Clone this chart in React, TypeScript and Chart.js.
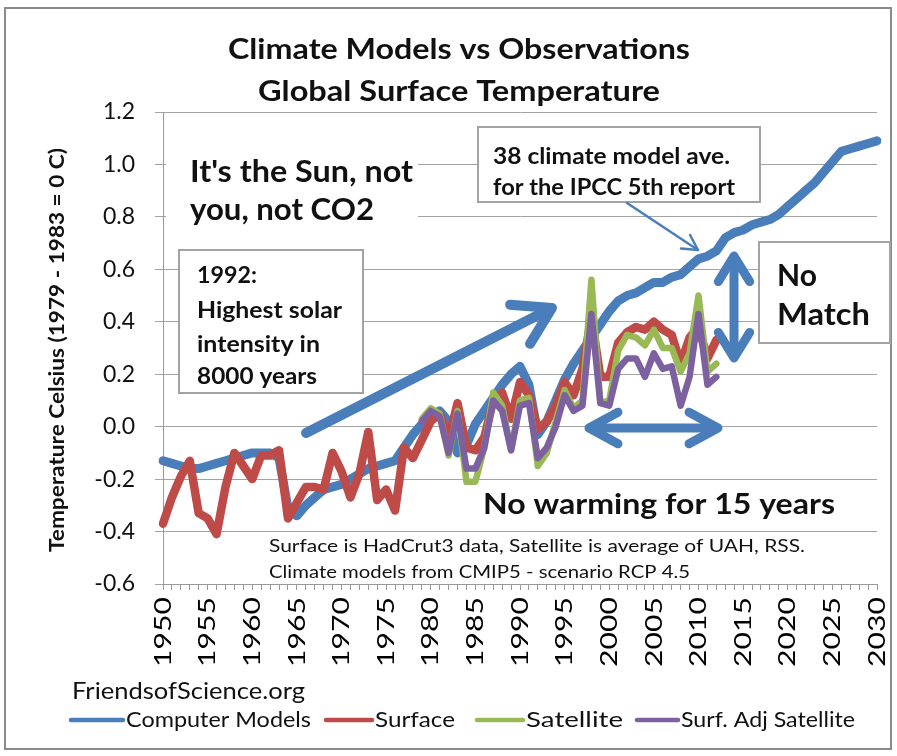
import React, { useEffect, useRef } from "react";
import { Chart, registerables } from "chart.js";
Chart.register(...registerables);

const FONT = "Lato, 'Open Sans', sans-serif";

const years = [
  "1950","1951","1952","1953","1954","1955","1956","1957","1958","1959",
  "1960","1961","1962","1963","1964","1965","1966","1967","1968","1969",
  "1970","1971","1972","1973","1974","1975","1976","1977","1978","1979",
  "1980","1981","1982","1983","1984","1985","1986","1987","1988","1989",
  "1990","1991","1992","1993","1994","1995","1996","1997","1998","1999",
  "2000","2001","2002","2003","2004","2005","2006","2007","2008","2009",
  "2010","2011","2012","2013","2014","2015","2016","2017","2018","2019",
  "2020","2021","2022","2023","2024","2025","2026","2027","2028","2029",
  "2030",
];

// Computer Models 1950-2030
const computerModels = [
  -0.13, -0.14, -0.15, -0.16, -0.16, -0.15, -0.14, -0.13, -0.12, -0.11,
  -0.10, -0.10, -0.10, -0.12, -0.31, -0.34, -0.30, -0.27, -0.24, -0.23,
  -0.22, -0.20, -0.18, -0.16, -0.15, -0.14, -0.13, -0.08, -0.03, 0.01,
  0.04, 0.06, 0.02, -0.10, -0.07, 0.01, 0.06, 0.11, 0.16, 0.20,
  0.23, 0.16, -0.03, 0.02, 0.10, 0.18, 0.24, 0.29, 0.34, 0.39,
  0.44, 0.48, 0.50, 0.51, 0.53, 0.55, 0.55, 0.57, 0.58, 0.61,
  0.64, 0.65, 0.67, 0.72, 0.74, 0.75, 0.77, 0.78, 0.79, 0.81,
  0.84, 0.87, 0.90, 0.93, 0.97, 1.01, 1.05, 1.06, 1.07, 1.08,
  1.09,
];

// Surface (HadCrut3) 1950-2012
const surface = [
  -0.37, -0.27, -0.19, -0.13, -0.33, -0.35, -0.41, -0.23, -0.10, -0.15,
  -0.20, -0.11, -0.11, -0.09, -0.35, -0.29, -0.23, -0.23, -0.24, -0.10,
  -0.17, -0.27, -0.18, -0.02, -0.28, -0.24, -0.32, -0.08, -0.12, -0.05,
  0.02, 0.05, -0.05, 0.09, -0.08, -0.09, -0.04, 0.10, 0.13, 0.03,
  0.17, 0.12, -0.01, 0.02, 0.08, 0.17, 0.12, 0.22, 0.42, 0.19,
  0.19, 0.32, 0.36, 0.38, 0.37, 0.40, 0.37, 0.35, 0.24, 0.34,
  0.38, 0.26, 0.33,
];

// Satellite (average of UAH, RSS) 1979-2012
const satellite = [
  0.03, 0.07, 0.05, -0.11, 0.06, -0.21, -0.21, -0.08, 0.13, 0.08,
  -0.09, 0.10, 0.11, -0.15, -0.10, 0.02, 0.14, 0.07, 0.10, 0.56,
  0.09, 0.10, 0.29, 0.35, 0.34, 0.31, 0.37, 0.30, 0.30, 0.21,
  0.28, 0.50, 0.21, 0.24,
];

// Surface adjusted satellite 1979-2012
const surfAdjSatellite = [
  0.02, 0.06, 0.04, -0.10, 0.05, -0.16, -0.16, -0.08, 0.10, 0.06,
  -0.09, 0.08, 0.09, -0.12, -0.08, 0.00, 0.12, 0.06, 0.08, 0.43,
  0.09, 0.08, 0.22, 0.26, 0.26, 0.19, 0.28, 0.22, 0.23, 0.08,
  0.19, 0.43, 0.16, 0.19,
];

const seriesNames = ["Computer Models", "Surface", "Satellite", "Surf. Adj Satellite"];
const seriesColors = ["#4A7EBB", "#BE4B48", "#98B954", "#7D60A0"];

function pad(arr: number[], startYear: number): (number | null)[] {
  return years.map((y) => {
    const i = Number(y) - startYear;
    return i >= 0 && i < arr.length ? arr[i] : null;
  });
}

function drawText(
  ctx: CanvasRenderingContext2D,
  s: string,
  x: number,
  y: number,
  size: number,
  bold: boolean,
  o: { w?: number; align?: CanvasTextAlign; rot?: boolean; color?: string } = {}
) {
  ctx.save();
  ctx.font = `${bold ? "bold " : ""}${size}px ${FONT}`;
  ctx.fillStyle = o.color || "#111";
  ctx.textBaseline = "middle";
  ctx.textAlign = o.align || "left";
  const natural = ctx.measureText(s).width;
  const sx = o.w ? o.w / natural : 1;
  ctx.translate(x, y);
  if (o.rot) ctx.rotate(-Math.PI / 2);
  ctx.scale(sx, 1);
  ctx.fillText(s, 0, 0);
  ctx.restore();
}

function stroke(ctx: CanvasRenderingContext2D, pts: number[][], w: number, color: string) {
  ctx.save();
  ctx.strokeStyle = color;
  ctx.lineWidth = w;
  ctx.lineCap = "round";
  ctx.lineJoin = "round";
  ctx.beginPath();
  pts.forEach((p, i) => (i ? ctx.lineTo(p[0], p[1]) : ctx.moveTo(p[0], p[1])));
  ctx.stroke();
  ctx.restore();
}

function arrowHead(ctx: CanvasRenderingContext2D, tip: number[], from: number[], len: number, spread: number, w: number, color: string) {
  const a = Math.atan2(tip[1] - from[1], tip[0] - from[0]);
  const p1 = [tip[0] - len * Math.cos(a - spread), tip[1] - len * Math.sin(a - spread)];
  const p2 = [tip[0] - len * Math.cos(a + spread), tip[1] - len * Math.sin(a + spread)];
  stroke(ctx, [p1, tip, p2], w, color);
}

function box(ctx: CanvasRenderingContext2D, x: number, y: number, w: number, h: number, border: boolean) {
  ctx.save();
  ctx.fillStyle = "#fff";
  ctx.fillRect(x, y, w, h);
  if (border) {
    ctx.strokeStyle = "#a3a3a3";
    ctx.lineWidth = 2;
    ctx.strokeRect(x, y, w, h);
  }
  ctx.restore();
}

const overlay = {
  id: "overlay",
  afterDraw(chart: any) {
    const ctx: CanvasRenderingContext2D = chart.ctx;
    const xs = chart.scales.x;
    const blue = seriesColors[0];

    // outer frame
    ctx.save();
    ctx.strokeStyle = "#8a8a8a";
    ctx.lineWidth = 2;
    ctx.strokeRect(5, 8, 886, 741);
    ctx.restore();

    // title
    drawText(ctx, "Climate Models vs Observations", 459, 50, 29, true, { align: "center", w: 462 });
    drawText(ctx, "Global Surface Temperature", 459, 92, 29, true, { align: "center", w: 402 });

    // y axis title
    drawText(ctx, "Temperature Celsius (1979 - 1983 = 0 C)", 58, 350, 20, true, { align: "center", rot: true, w: 404 });

    // x tick labels
    years.forEach((y, i) => {
      if (Number(y) % 5 !== 0) return;
      const px = xs.getPixelForValue(i);
      drawText(ctx, y, px, 597, 24, false, { align: "right", rot: true, w: 70, color: "#000" });
    });

    // It's the Sun
    box(ctx, 166, 138, 252, 100, false);
    drawText(ctx, "It's the Sun, not", 190, 172, 30, true, { w: 223 });
    drawText(ctx, "you, not CO2", 190, 210, 30, true, { w: 184 });

    // 1992 box
    box(ctx, 179, 250, 184, 143, true);
    drawText(ctx, "1992:", 197, 276, 23, true, { w: 60 });
    drawText(ctx, "Highest solar", 197, 311, 23, true, { w: 145 });
    drawText(ctx, "intensity in", 197, 345, 23, true, { w: 123 });
    drawText(ctx, "8000 years", 197, 377, 23, true, { w: 120 });

    // Big blue arrow
    stroke(ctx, [[306, 433], [550, 309]], 10, blue);
    arrowHead(ctx, [552, 308], [306, 433], 42, 0.55, 10, blue);

    // 38 climate model box
    box(ctx, 478, 127, 282, 75, true);
    drawText(ctx, "38 climate model ave.", 493, 157, 23, true, { w: 237 });
    drawText(ctx, "for the IPCC 5th report", 493, 188, 23, true, { w: 242 });
    stroke(ctx, [[627, 203], [698, 250]], 2.5, blue);
    arrowHead(ctx, [698, 250], [627, 203], 17, 0.5, 2.5, blue);

    // No Match box
    box(ctx, 759, 242, 131, 101, true);
    drawText(ctx, "No", 777, 276, 30, true);
    drawText(ctx, "Match", 777, 315, 30, true, { w: 93 });

    // vertical double arrow
    stroke(ctx, [[734, 258], [734, 356]], 9, blue);
    arrowHead(ctx, [734, 256], [734, 356], 30, 0.55, 9, blue);
    arrowHead(ctx, [734, 358], [734, 258], 30, 0.55, 9, blue);

    // horizontal double arrow
    stroke(ctx, [[591, 428], [716, 428]], 9, blue);
    arrowHead(ctx, [589, 428], [716, 428], 33, 0.5, 9, blue);
    arrowHead(ctx, [718, 428], [591, 428], 33, 0.5, 9, blue);

    // No warming
    drawText(ctx, "No warming for 15 years", 483, 505, 29, true, { w: 352 });

    // footnote
    drawText(ctx, "Surface is HadCrut3 data, Satellite is average of UAH, RSS.", 269, 546, 18, false, { w: 536 });
    drawText(ctx, "Climate models from CMIP5 - scenario RCP 4.5", 269, 572, 18, false, { w: 421 });

    // source
    drawText(ctx, "FriendsofScience.org", 72, 691, 24, false, { w: 233 });

    // legend
    const leg = [
      [71, 123, 126, 185],
      [326, 372, 375, 80],
      [477, 523, 526, 97],
      [637, 678, 681, 174],
    ];
    leg.forEach((l, i) => {
      stroke(ctx, [[l[0], 720], [l[1], 720]], 4.5, seriesColors[i]);
      drawText(ctx, seriesNames[i], l[2], 720, 22, false, { w: l[3] });
    });
  },
};

export default function App() {
  const ref = useRef<HTMLCanvasElement | null>(null);
  useEffect(() => {
    if (!ref.current) return;
    const widths = [9, 8.5, 6.5, 6.5];
    const data = [
      pad(computerModels, 1950),
      pad(surface, 1950),
      pad(satellite, 1979),
      pad(surfAdjSatellite, 1979),
    ];
    const chart = new Chart(ref.current, {
      type: "line",
      data: {
        labels: years,
        datasets: data.map((d, i) => ({
          label: seriesNames[i],
          data: d,
          borderColor: seriesColors[i],
          backgroundColor: seriesColors[i],
          borderWidth: widths[i],
          pointRadius: 0,
          tension: 0,
          spanGaps: false,
          borderJoinStyle: "round" as const,
          borderCapStyle: "round" as const,
          order: 4 - i,
        })),
      },
      options: {
        animation: false,
        responsive: false,
        maintainAspectRatio: false,
        layout: { padding: { left: 0, right: 20, top: 112, bottom: 100 } },
        plugins: {
          legend: { display: false },
          title: { display: false },
          tooltip: { enabled: false },
        },
        scales: {
          x: {
            type: "category",
            offset: false,
            grid: { drawOnChartArea: false, drawTicks: true, tickLength: 6, color: "#9a9a9a" },
            border: { color: "#9a9a9a", width: 1 },
            ticks: { display: false, autoSkip: false },
            afterFit: (s: any) => {
              s.height = 72;
            },
          },
          y: {
            min: -0.6,
            max: 1.2,
            grid: { color: "#a3a3a3", tickLength: 8, lineWidth: 1 },
            border: { color: "#9a9a9a", width: 1 },
            ticks: {
              stepSize: 0.2,
              padding: 20,
              color: "#111",
              font: { family: FONT, size: 23 },
              callback: (v: any) => Number(v).toFixed(1),
            },
            afterFit: (s: any) => {
              s.width = 163;
            },
          },
        },
      },
      plugins: [overlay],
    });
    return () => chart.destroy();
  }, []);
  return (
    <div style={{ position: "absolute", left: 0, top: 0, width: 897, height: 756, background: "#fff" }}>
      <canvas ref={ref} width={897} height={756} />
    </div>
  );
}
